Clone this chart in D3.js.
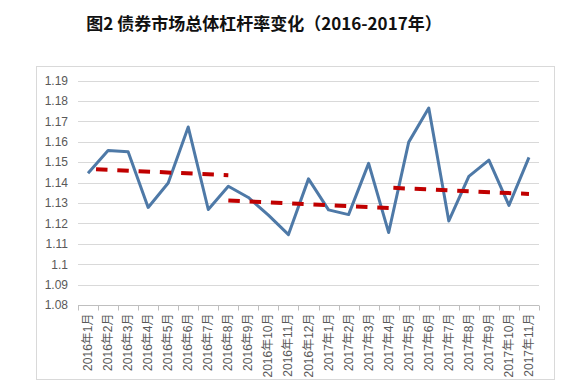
<!DOCTYPE html>
<html>
<head>
<meta charset="utf-8">
<script src="https://cdn.jsdelivr.net/npm/d3@7"></script>
<style>
  html, body { margin: 0; padding: 0; background: #fff; }
  svg { display: block; }
</style>
</head>
<body>
<svg id="chart" width="568" height="391"></svg>
<script>
// ---- data ----
const categories = [
  "2016年1月","2016年2月","2016年3月","2016年4月","2016年5月","2016年6月",
  "2016年7月","2016年8月","2016年9月","2016年10月","2016年11月","2016年12月",
  "2017年1月","2017年2月","2017年3月","2017年4月","2017年5月","2017年6月",
  "2017年7月","2017年8月","2017年9月","2017年10月","2017年11月"
];
const leverage = [
  1.1445, 1.1557, 1.1551, 1.1278, 1.1398, 1.1672,
  1.1268, 1.1382, 1.1327, 1.1240, 1.1145, 1.1418,
  1.1266, 1.1243, 1.1494, 1.1155, 1.1598, 1.1765,
  1.1212, 1.1430, 1.1510, 1.1288, 1.1523
];
// trend segments: [start category index, end category index, start value, end value]
const trendStartIdx = [0, 7, 15];
const trendEndIdx   = [7, 15, 22];
const trendStartVal = [1.1467, 1.1312, 1.1375];
const trendEndVal   = [1.1436, 1.1275, 1.1344];
const yTicks = [1.08,1.09,1.1,1.11,1.12,1.13,1.14,1.15,1.16,1.17,1.18,1.19];
const title = "图2 债券市场总体杠杆率变化（2016-2017年）";

// ---- layout ----
const svg = d3.select("#chart");
const plot = {left: 78, right: 539, top: 80.5, bottom: 305};

svg.append("rect")
  .attr("x", 36.5).attr("y", 66.5).attr("width", 518).attr("height", 313)
  .attr("fill", "#fff").attr("stroke", "#D9D9D9").attr("stroke-width", 1);

svg.append("text")
  .attr("x", 264).attr("y", 30)
  .attr("text-anchor", "middle")
  .attr("font-family", "'Noto Sans CJK SC', sans-serif")
  .attr("font-weight", "bold")
  .attr("font-size", 17)
  .attr("fill", "#111")
  .text(title);

const x = d3.scaleBand().domain(categories).range([plot.left, plot.right]).padding(0);
const y = d3.scaleLinear().domain([1.08, 1.19]).range([plot.bottom, plot.top]);
const cx = c => x(c) + x.bandwidth() / 2;

// gridlines
svg.append("g")
  .selectAll("line").data(yTicks.slice(1)).join("line")
  .attr("x1", plot.left).attr("x2", plot.right)
  .attr("y1", d => Math.round(y(d)) + 0.5).attr("y2", d => Math.round(y(d)) + 0.5)
  .attr("stroke", "#D9D9D9").attr("stroke-width", 1);

// y axis labels
const yAxis = d3.axisLeft(y).tickValues(yTicks).tickSize(0).tickPadding(10)
  .tickFormat(d => String(+d.toFixed(2)));
const gy = svg.append("g").attr("transform", `translate(${plot.left},0)`).call(yAxis);
gy.select(".domain").remove();
gy.selectAll("text")
  .attr("font-family", "'Liberation Sans', Arial, sans-serif")
  .attr("font-size", 12).attr("fill", "#595959");

// x axis
const gx = svg.append("g").attr("transform", `translate(0,${Math.round(plot.bottom) + 0.5})`);
gx.append("line").attr("x1", plot.left).attr("x2", plot.right)
  .attr("stroke", "#BFBFBF").attr("stroke-width", 1);
const bounds = categories.map(c => x(c)).concat([plot.right]);
gx.selectAll("line.tick").data(bounds).join("line")
  .attr("class", "tick")
  .attr("x1", d => Math.round(d) + 0.5).attr("x2", d => Math.round(d) + 0.5)
  .attr("y1", 0).attr("y2", 5)
  .attr("stroke", "#BFBFBF").attr("stroke-width", 1);
gx.selectAll("text").data(categories).join("text")
  .attr("transform", d => `translate(${cx(d) + 4},8) rotate(-90)`)
  .attr("text-anchor", "end")
  .attr("font-family", "'Liberation Sans', 'Noto Sans CJK SC', sans-serif")
  .attr("font-size", 12).attr("fill", "#595959")
  .text(d => d);

// main line
const line = d3.line().x((d, i) => cx(categories[i])).y(d => y(d));
svg.append("path")
  .datum(leverage)
  .attr("d", line)
  .attr("fill", "none")
  .attr("stroke", "#4E79A7")
  .attr("stroke-width", 3)
  .attr("stroke-linejoin", "round");

// trend lines
const dashOffsets = [13.3, 0, 16.6];
trendStartIdx.forEach((s, k) => {
  const e = trendEndIdx[k];
  svg.append("line")
    .attr("x1", cx(categories[s])).attr("y1", y(trendStartVal[k]))
    .attr("x2", cx(categories[e])).attr("y2", y(trendEndVal[k]))
    .attr("stroke", "#C00000")
    .attr("stroke-width", 4)
    .attr("stroke-dasharray", "11.5 9.8")
    .attr("stroke-dashoffset", dashOffsets[k]);
});
</script>
</body>
</html>
